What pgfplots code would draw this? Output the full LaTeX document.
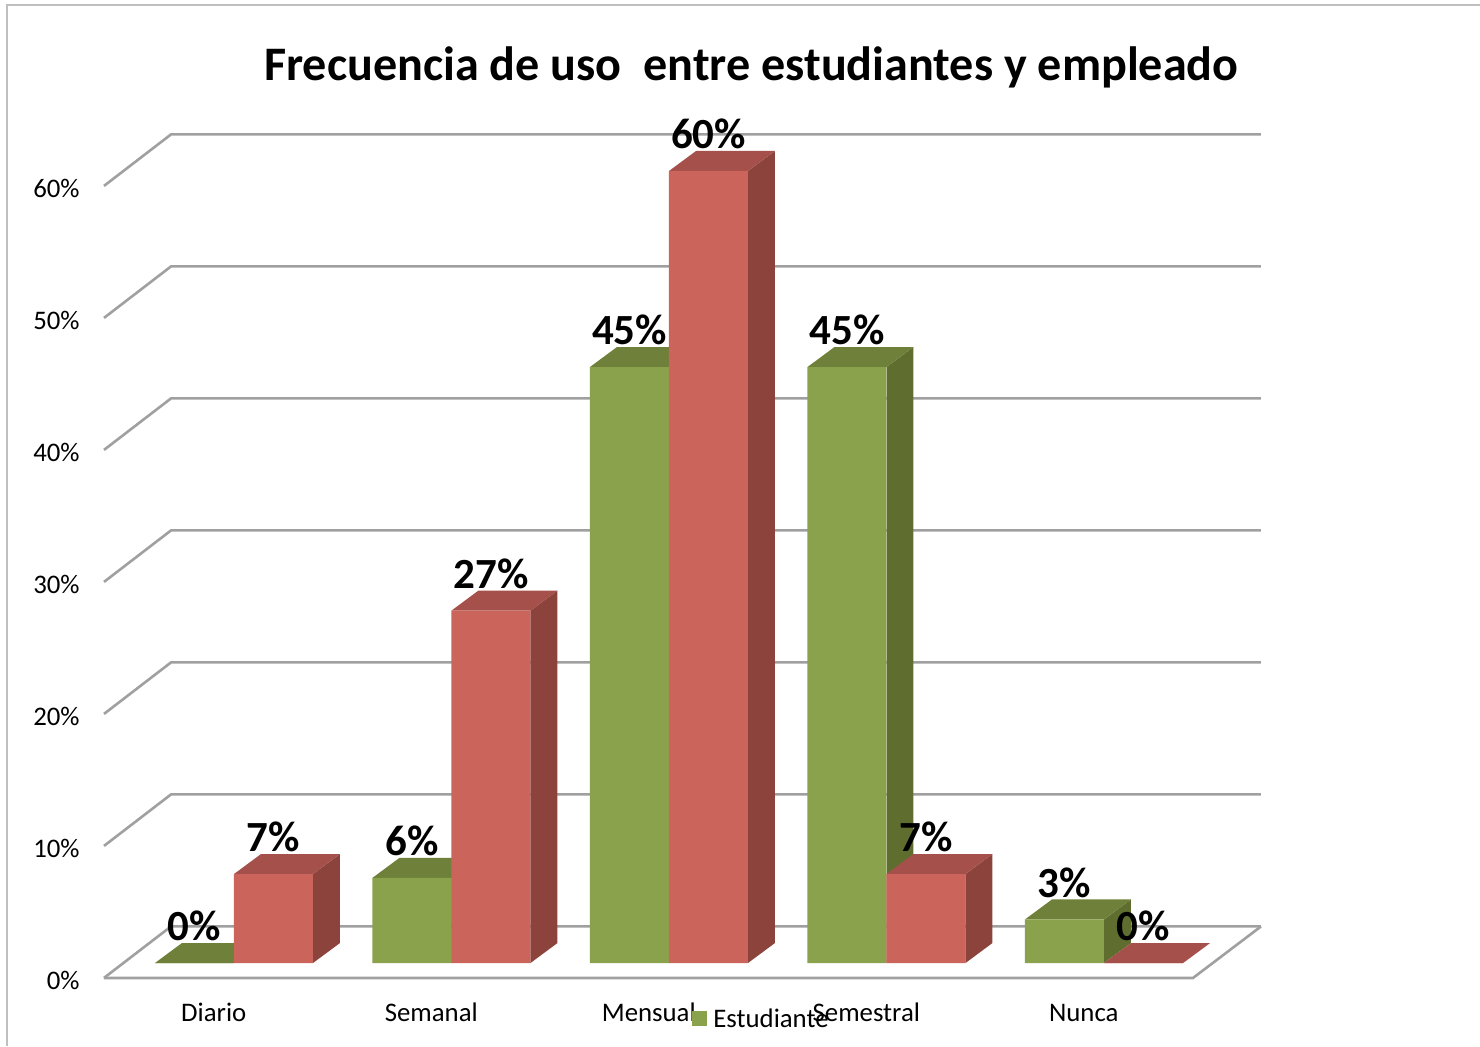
\documentclass[border=0pt]{standalone}
\usepackage{fontspec}
\setmainfont{Carlito}
\usepackage{pgfplots}
\pgfplotsset{compat=1.18}
\definecolor{gfront}{HTML}{8BA24D}
\definecolor{gtop}{HTML}{6E8039}
\definecolor{gside}{HTML}{5F6E2E}
\definecolor{rfront}{HTML}{CB655B}
\definecolor{rtop}{HTML}{A5504A}
\definecolor{rside}{HTML}{8C433C}
\definecolor{gridg}{HTML}{A0A0A0}
\definecolor{frameg}{HTML}{BFBFBF}
% box: left edge, right edge, value, side colour, top colour
\newcommand{\boxfaces}[5]{%
  \addplot[fill=#4,draw=none,forget plot] coordinates {({#2},0) ({#2+0.1241},1.515) ({#2+0.1241},{#3+1.515}) ({#2},{#3})} -- cycle;
  \addplot[fill=#5,draw=none,forget plot] coordinates {({#1},{#3}) ({#1+0.1241},{#3+1.515}) ({#2+0.1241},{#3+1.515}) ({#2},{#3})} -- cycle;
}
\newcommand{\gridpair}[1]{%
  \addplot[gridg,line width=1.3pt,forget plot] coordinates {(-0.5011,{#1-3.9}) (-0.1931,{#1}) (4.8184,{#1})};
}
\pgfplotsset{pctlabels/.style={
  nodes near coords={\pgfmathprintnumber[fixed,precision=0,assume math mode=true]{\pgfplotspointmeta}\%},
  every node near coord/.append style={font=\fontsize{21.5pt}{25pt}\selectfont\bfseries,black,anchor=center,inner sep=0pt,yshift=18.5pt,xshift=#1},
}}
\begin{document}
\begin{tikzpicture}
\useasboundingbox (0,0) rectangle (740pt,523pt);
\draw[frameg,line width=1pt] (3.5pt,0) -- (3.5pt,520.5pt) -- (740pt,520.5pt);
\begin{axis}[
  at={(52pt,34pt)},anchor=south west,
  x=108.75pt,y=6.6pt,
  xmin=-0.5011,xmax=4.8184,ymin=-1.136,ymax=62.803,
  clip=false,
  axis line style={draw=none},
  major tick length=0pt,
  tick align=outside,
  xtick={0,1,2,3,4},
  xticklabels={Diario,Semanal,Mensual,Semestral,Nunca},
  ytick={-1.136,8.864,18.864,28.864,38.864,48.864,58.864},
  yticklabels={0\%,10\%,20\%,30\%,40\%,50\%,60\%},
  tick label style={font=\fontsize{13.4pt}{15pt}\selectfont,inner sep=0pt},
  yticklabel style={anchor=east,xshift=-12pt,yshift=-1pt},
  xticklabel style={anchor=base,yshift=-21.5pt,xshift=0.4pt},
  title={\fontsize{24.07pt}{28pt}\selectfont\bfseries Frecuencia de uso~ entre estudiantes y empleado},
  title style={at={(axis description cs:0.5596,1.0651)},anchor=center,inner sep=0pt,yshift=0pt},
  legend image code/.code={\fill[#1] (0pt,-3.75pt) rectangle (7.5pt,3.75pt);},
  legend style={at={(axis cs:2.2023,-4.2)},anchor=west,draw=none,fill=none,inner sep=0pt,
    font=\fontsize{13.4pt}{15pt}\selectfont,cells={anchor=west}},
]
% wall and floor
\gridpair{2.77}
\gridpair{12.77}
\gridpair{22.77}
\gridpair{32.77}
\gridpair{42.77}
\gridpair{52.77}
\gridpair{62.77}
\addplot[gridg,line width=1.3pt,forget plot] coordinates {(-0.5011,-1.136) (4.5057,-1.136) (4.8184,2.77)};
% Estudiante
\boxfaces{-0.2667}{0.0966}{0}{gside}{gtop}
\boxfaces{0.7333}{1.0966}{6.45}{gside}{gtop}
\boxfaces{1.7333}{2.0966}{45.15}{gside}{gtop}
\boxfaces{2.7333}{3.0966}{45.15}{gside}{gtop}
\boxfaces{3.7333}{4.0966}{3.3}{gside}{gtop}
\addplot[ybar,bar width=39.5pt,bar shift=-9.25pt,fill=gfront,draw=none,pctlabels=-9.25pt] coordinates {(0,0) (1,6.45) (2,45.15) (3,45.15) (4,3.3)};
\addlegendentry{\raisebox{-1.5pt}{\hspace{1pt}Estudiante}}
% Empleado
\boxfaces{0.0966}{0.4598}{6.74}{rside}{rtop}
\boxfaces{1.0966}{1.4598}{26.7}{rside}{rtop}
\boxfaces{2.0966}{2.4598}{60}{rside}{rtop}
\boxfaces{3.0966}{3.4598}{6.74}{rside}{rtop}
\boxfaces{4.0966}{4.4598}{0}{rside}{rtop}
\addplot[ybar,bar width=39.5pt,bar shift=30.25pt,fill=rfront,draw=none,forget plot,pctlabels=30.25pt] coordinates {(0,6.74) (1,26.7) (2,60) (3,6.74) (4,0)};
\end{axis}
\end{tikzpicture}
\end{document}
